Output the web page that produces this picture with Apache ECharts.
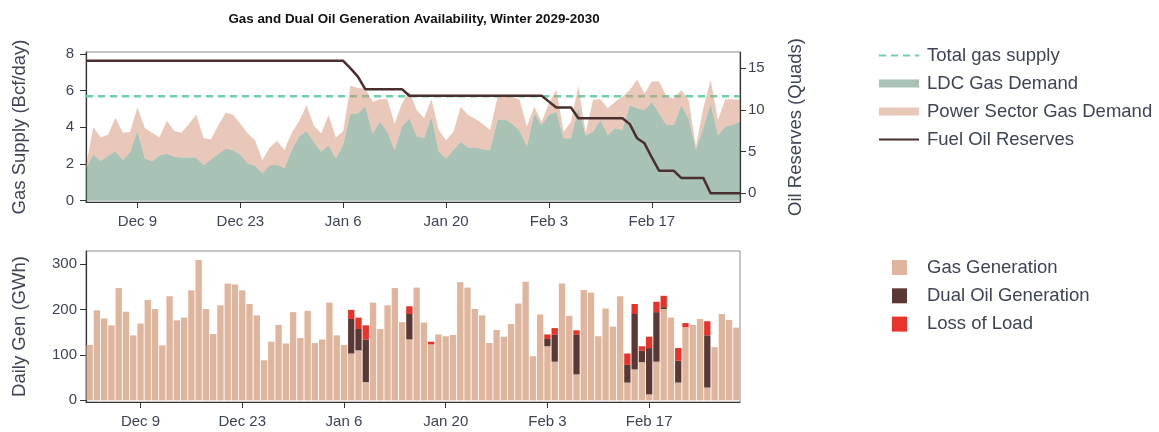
<!DOCTYPE html>
<html>
<head>
<meta charset="utf-8">
<script src="https://cdn.jsdelivr.net/npm/echarts@6/dist/echarts.min.js"></script>
<style>
  html, body { margin: 0; padding: 0; background: #ffffff; }
  #chart { width: 1159px; height: 432px; }
</style>
</head>
<body>
<div id="chart"></div>
<script>
// Daily categories: Dec 2, 2029 through Mar 1, 2030
const startDate = Date.UTC(2029, 11, 2);
const dayCount = 90;
const monthNames = ['Jan','Feb','Mar','Apr','May','Jun','Jul','Aug','Sep','Oct','Nov','Dec'];
const dates = [];
for (let i = 0; i < dayCount; i++) {
  const d = new Date(startDate + i * 86400000);
  dates.push(monthNames[d.getUTCMonth()] + ' ' + d.getUTCDate());
}
const tickLabels = ['Dec 9', 'Dec 23', 'Jan 6', 'Jan 20', 'Feb 3', 'Feb 17'];

// Gas supply and demand (Bcf/day)
const totalGasSupply = 5.7;
const ldcDemand = [
  1.75, 2.5, 2.16, 2.44, 2.7, 2.2, 2.64, 3.8, 2.3, 2.15,
  2.47, 2.58, 2.4, 2.35, 2.36, 2.36, 1.93, 2.25, 2.55, 2.84,
  2.76, 2.5, 2.04, 1.9, 1.5, 1.93, 1.96, 1.78, 2.76, 3.5,
  3.8, 3.2, 2.67, 3.02, 2.3, 3.05, 4.76, 4.76, 5.15, 3.67,
  4.3, 3.76, 2.76, 4.03, 4.5, 3.53, 3.4, 4.58, 2.67, 2.3,
  2.76, 3.22, 2.9, 2.9, 2.8, 2.76, 4.4, 4.44, 4.2, 3.8,
  2.95, 4.76, 4.13, 4.67, 4.85, 3.4, 3.4, 5.04, 3.55, 3.76,
  4.4, 3.58, 3.95, 3.85, 5.2, 5.04, 4.95, 5.4, 4.76, 4.13,
  4.13, 5.2, 4.5, 2.76, 3.95, 5.3, 3.58, 4.04, 4.13, 4.3
];
const powerDemand = [
  0.15, 1.5, 1.29, 1.16, 1.83, 1.5, 1.11, 1.3, 1.66, 1.55,
  0.97, 1.78, 1.4, 1.35, 1.82, 2.34, 1.49, 1.1, 1.55, 1.96,
  1.94, 1.7, 1.63, 1.4, 0.7, 0.97, 1.29, 0.98, 0.94, 0.83,
  1.4, 0.9, 1.0, 1.65, 1.15, 0.75, 1.51, 1.39, 0.95, 1.73,
  1.23, 1.79, 1.44, 1.27, 1.45, 1.42, 1.1, 0.95, 1.18, 1.0,
  1.0, 1.91, 1.77, 1.55, 1.38, 1.09, 1.27, 1.23, 1.47, 1.7,
  1.09, 0.37, 0.17, 0.63, 1.22, 0.36, 0.9, 1.21, 0.15, 1.74,
  1.13, 1.46, 1.45, 1.82, 0.84, 1.56, 0.9, 1.1, 1.74, 1.54,
  1.45, 0.84, 1.0, 0.19, 1.09, 1.28, 0.82, 1.49, 1.4, 1.2
];

// Fuel oil reserves (Quads)
const oilReserves = [
  15.9, 15.9, 15.9, 15.9, 15.9, 15.9, 15.9, 15.9, 15.9, 15.9,
  15.9, 15.9, 15.9, 15.9, 15.9, 15.9, 15.9, 15.9, 15.9, 15.9,
  15.9, 15.9, 15.9, 15.9, 15.9, 15.9, 15.9, 15.9, 15.9, 15.9,
  15.9, 15.9, 15.9, 15.9, 15.9, 15.9, 15.0, 14.0, 12.5, 12.5,
  12.5, 12.5, 12.5, 12.5, 11.7, 11.7, 11.7, 11.7, 11.7, 11.7,
  11.7, 11.7, 11.7, 11.7, 11.7, 11.7, 11.7, 11.7, 11.7, 11.7,
  11.7, 11.7, 11.7, 11.0, 10.3, 10.3, 10.3, 9.0, 9.0, 9.0,
  9.0, 9.0, 9.0, 9.0, 8.3, 6.6, 6.0, 4.3, 2.7, 2.7,
  2.7, 1.85, 1.85, 1.85, 1.85, 0, 0, 0, 0, 0
];

// Daily generation (GWh)
const gasGeneration = [
  122, 198, 180, 165, 247, 195, 143, 169, 221, 201,
  121, 229, 176, 182, 242, 309, 201, 146, 209, 257,
  255, 242, 212, 187, 88, 129, 166, 125, 194, 137,
  197, 126, 134, 215, 143, 122, 103, 110, 40, 215,
  157, 209, 247, 172, 134, 248, 171, 123, 145, 141,
  144, 260, 248, 201, 187, 126, 155, 140, 168, 213,
  261, 97, 189, 119, 85, 257, 186, 57, 243, 237,
  141, 202, 162, 229, 39, 68, 84, 13, 85, 201,
  182, 39, 161, 166, 179, 28, 117, 190, 177, 160
];
const dualOilGeneration = [
  0, 0, 0, 0, 0, 0, 0, 0, 0, 0,
  0, 0, 0, 0, 0, 0, 0, 0, 0, 0,
  0, 0, 0, 0, 0, 0, 0, 0, 0, 0,
  0, 0, 0, 0, 0, 0, 76, 47, 94, 0,
  0, 0, 0, 0, 56, 0, 0, 0, 0, 0,
  0, 0, 0, 0, 0, 0, 0, 0, 0, 0,
  0, 0, 0, 16, 59, 0, 0, 87, 0, 0,
  0, 0, 0, 0, 39, 122, 25, 102, 109, 4,
  0, 48, 0, 0, 0, 115, 0, 0, 0, 0
];
const lossOfLoad = [
  0, 0, 0, 0, 0, 0, 0, 0, 0, 0,
  0, 0, 0, 0, 0, 0, 0, 0, 0, 0,
  0, 0, 0, 0, 0, 0, 0, 0, 0, 0,
  0, 0, 0, 0, 0, 0, 20, 25, 31, 0,
  0, 0, 0, 0, 17, 0, 0, 6, 0, 0,
  0, 0, 0, 0, 0, 0, 0, 0, 0, 0,
  0, 0, 0, 10, 15, 0, 0, 10, 0, 0,
  0, 0, 0, 0, 25, 22, 10, 25, 23, 25,
  0, 28, 9, 0, 0, 31, 0, 0, 0, 0
];

const textColor = '#3d4453';
const axisColor = '#333333';
const fontFamily = 'Liberation Sans, Arial, sans-serif';
const showTick = (idx, val) => tickLabels.indexOf(val) !== -1;

const chart = echarts.init(document.getElementById('chart'), null, { renderer: 'canvas' });

const xAxisBase = (gridIndex, boundaryGap, margin) => ({
  type: 'category',
  gridIndex,
  data: dates,
  boundaryGap,
  axisLine: { show: true, onZero: false, lineStyle: { color: axisColor, width: 1.2 } },
  axisTick: { show: true, interval: showTick, alignWithLabel: true, length: 6, lineStyle: { color: axisColor } },
  axisLabel: { interval: showTick, fontSize: 15, color: textColor, fontFamily, margin },
  splitLine: { show: false }
});

const yAxisBase = (opts) => Object.assign({
  type: 'value',
  axisLine: { show: true, lineStyle: { color: axisColor, width: 1.2 } },
  splitLine: { show: false },
  nameLocation: 'middle',
  nameRotate: 90,
  nameTextStyle: { fontSize: 18.5, color: textColor, fontFamily }
}, opts);

// Line entries in the legend show only the stroke, no marker
const lineLegendItem = (name) => ({ name, icon: 'inherit', itemStyle: { opacity: 0 } });

const option = {
  animation: false,
  backgroundColor: '#ffffff',
  title: {
    text: 'Gas and Dual Oil Generation Availability, Winter 2029-2030',
    left: 409,
    top: 8,
    textAlign: 'center',
    textStyle: { fontSize: 13.4, fontWeight: 'bold', color: '#111111', fontFamily }
  },
  legend: [
    {
      orient: 'vertical',
      left: 873,
      top: 41,
      itemWidth: 40,
      itemHeight: 8,
      itemGap: 9,
      selectedMode: false,
      textStyle: { fontSize: 18.5, color: textColor, fontFamily, padding: [0, 0, 0, 3] },
      data: [
        lineLegendItem('Total gas supply'),
        { name: 'LDC Gas Demand', icon: 'rect' },
        { name: 'Power Sector Gas Demand', icon: 'rect' },
        lineLegendItem('Fuel Oil Reserves')
      ]
    },
    {
      orient: 'vertical',
      left: 887,
      top: 253,
      itemWidth: 15,
      itemHeight: 15,
      itemGap: 9.3,
      icon: 'rect',
      selectedMode: false,
      textStyle: { fontSize: 18.5, color: textColor, fontFamily, padding: [0, 0, 0, 15] },
      data: ['Gas Generation', 'Dual Oil Generation', 'Loss of Load']
    }
  ],
  grid: [
    { left: 86, top: 52, width: 654, height: 150, show: true, borderColor: '#8c8c8c', borderWidth: 1 },
    { left: 86, top: 251, width: 654, height: 151, show: true, borderColor: '#8c8c8c', borderWidth: 1 }
  ],
  xAxis: [ xAxisBase(0, false, 12), xAxisBase(1, true, 12) ],
  yAxis: [
    yAxisBase({
      gridIndex: 0,
      min: -0.071, max: 8.109,
      name: 'Gas Supply (Bcf/day)',
      nameGap: 57,
      axisTick: { show: true, customValues: [0, 2, 4, 6, 8], length: 6, lineStyle: { color: axisColor } },
      axisLabel: { customValues: [0, 2, 4, 6, 8], fontSize: 15, color: textColor, margin: 12, fontFamily }
    }),
    yAxisBase({
      gridIndex: 0,
      position: 'right',
      min: -1.044, max: 16.956,
      name: 'Oil Reserves (Quads)',
      nameGap: 46,
      axisTick: { show: true, customValues: [0, 5, 10, 15], length: 6, lineStyle: { color: axisColor } },
      axisLabel: { customValues: [0, 5, 10, 15], fontSize: 15, color: textColor, margin: 8, fontFamily }
    }),
    yAxisBase({
      gridIndex: 1,
      min: -3.7, max: 328.6,
      name: 'Daily Gen (GWh)',
      nameGap: 57,
      axisTick: { show: true, customValues: [0, 100, 200, 300], length: 6, lineStyle: { color: axisColor } },
      axisLabel: { customValues: [0, 100, 200, 300], fontSize: 15, color: textColor, margin: 9, fontFamily }
    })
  ],
  series: [
    {
      name: 'Total gas supply',
      type: 'line',
      xAxisIndex: 0, yAxisIndex: 0,
      data: [[dates[0], totalGasSupply], [dates[dates.length - 1], totalGasSupply]],
      symbol: 'none',
      color: '#6fcfa6',
      lineStyle: { color: '#6fcfa6', width: 2.5, type: [7, 5] },
      z: 2
    },
    {
      name: 'LDC Gas Demand',
      type: 'line',
      xAxisIndex: 0, yAxisIndex: 0,
      stack: 'gas',
      data: ldcDemand,
      symbol: 'none',
      color: 'rgba(82,134,108,0.5)',
      lineStyle: { width: 0 },
      areaStyle: { color: 'rgba(82,134,108,0.5)', opacity: 1 },
      z: 3
    },
    {
      name: 'Power Sector Gas Demand',
      type: 'line',
      xAxisIndex: 0, yAxisIndex: 0,
      stack: 'gas',
      data: powerDemand,
      symbol: 'none',
      color: 'rgba(214,146,116,0.5)',
      lineStyle: { width: 0 },
      areaStyle: { color: 'rgba(214,146,116,0.5)', opacity: 1 },
      z: 3
    },
    {
      name: 'Fuel Oil Reserves',
      type: 'line',
      xAxisIndex: 0, yAxisIndex: 1,
      data: oilReserves,
      symbol: 'none',
      color: '#4a2f2e',
      lineStyle: { color: '#4a2f2e', width: 2.5 },
      z: 5
    },
    {
      name: 'Gas Generation',
      type: 'bar',
      xAxisIndex: 1, yAxisIndex: 2,
      stack: 'gen',
      data: gasGeneration,
      color: '#dfb59d',
      barCategoryGap: '13%'
    },
    {
      name: 'Dual Oil Generation',
      type: 'bar',
      xAxisIndex: 1, yAxisIndex: 2,
      stack: 'gen',
      data: dualOilGeneration,
      color: '#5a3935',
      barCategoryGap: '13%'
    },
    {
      name: 'Loss of Load',
      type: 'bar',
      xAxisIndex: 1, yAxisIndex: 2,
      stack: 'gen',
      data: lossOfLoad,
      color: '#e8322a',
      barCategoryGap: '13%'
    }
  ]
};

chart.setOption(option);
</script>
</body>
</html>
